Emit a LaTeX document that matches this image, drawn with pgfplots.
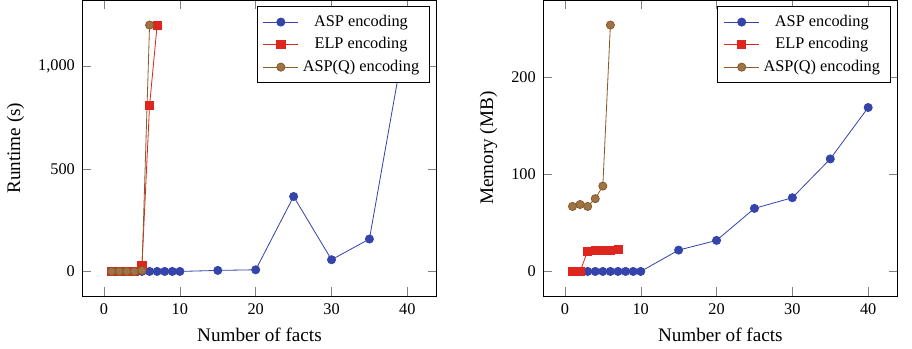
\documentclass[border=0pt]{standalone}
\usepackage{fontspec}
\setmainfont{Liberation Serif}
\usepackage{pgfplots}
\pgfplotsset{compat=1.18}
\usetikzlibrary{patterns}
\definecolor{cblue}{RGB}{52,68,170}
\definecolor{cred}{RGB}{220,38,30}
\definecolor{cbrown}{RGB}{140,90,40}
\pgfplotsset{
  every axis/.append style={
    width=174pt, height=145pt, scale only axis,
    /pgf/number format/assume math mode=true,
    xticklabel={\pgfmathprintnumber[assume math mode=true]{\tick}},
    yticklabel={\pgfmathprintnumber[assume math mode=true]{\tick}},
    tick label style={font=\footnotesize},
    label style={font=\fontsize{9.4pt}{11pt}\selectfont},
    xlabel={Number of facts},
    xtick={0,10,20,30,40},
    legend cell align=center,
    legend style={font=\footnotesize},
  },
  aspstyle/.style={color=cblue, mark=*, mark size=2pt, mark options={fill=cblue}},
  elpstyle/.style={color=cred, mark=square*, mark size=2pt, mark options={fill=cred}},
  aspqstyle/.style={color=cbrown, mark=*, mark size=2pt, mark options={fill=cbrown!85!white, postaction={pattern=crosshatch, pattern color=cbrown!70!black}}},
}
\begin{document}
\begin{tikzpicture}
\begin{axis}[
  at={(0,0)},
  ylabel={Runtime (s)},
  ytick={0,500,1000},
]
\addplot[aspstyle] coordinates {(1,0)(2,0)(3,0)(4,0)(5,0)(6,0)(7,0)(8,0)(9,0)(10,0)(15,5)(20,8)(25,365)(30,57)(35,158)(40,1200)};
\addlegendentry{ASP encoding}
\addplot[elpstyle] coordinates {(1,0)(2,0)(3,0)(4,0)(5,30)(6,808)(7,1200)};
\addlegendentry{ELP encoding}
\addplot[aspqstyle] coordinates {(1,0)(2,0)(3,0)(4,0)(5,5)(6,1200)};
\addlegendentry{ASP(Q) encoding}
\end{axis}
\begin{axis}[
  at={(226pt,0)},
  ylabel={Memory (MB)},
  ytick={0,100,200},
]
\addplot[aspstyle] coordinates {(1,0)(2,0)(3,0)(4,0)(5,0)(6,0)(7,0)(8,0)(9,0)(10,0)(15,22)(20,32)(25,65)(30,76)(35,116)(40,169)};
\addlegendentry{ASP encoding}
\addplot[elpstyle] coordinates {(1,0)(2,0)(3,21)(4,22)(5,22)(6,22)(7,23)};
\addlegendentry{ELP encoding}
\addplot[aspqstyle] coordinates {(1,67)(2,69)(3,67)(4,75)(5,88)(6,254)};
\addlegendentry{ASP(Q) encoding}
\end{axis}
\path (400pt+7pt,0);
\end{tikzpicture}
\end{document}
